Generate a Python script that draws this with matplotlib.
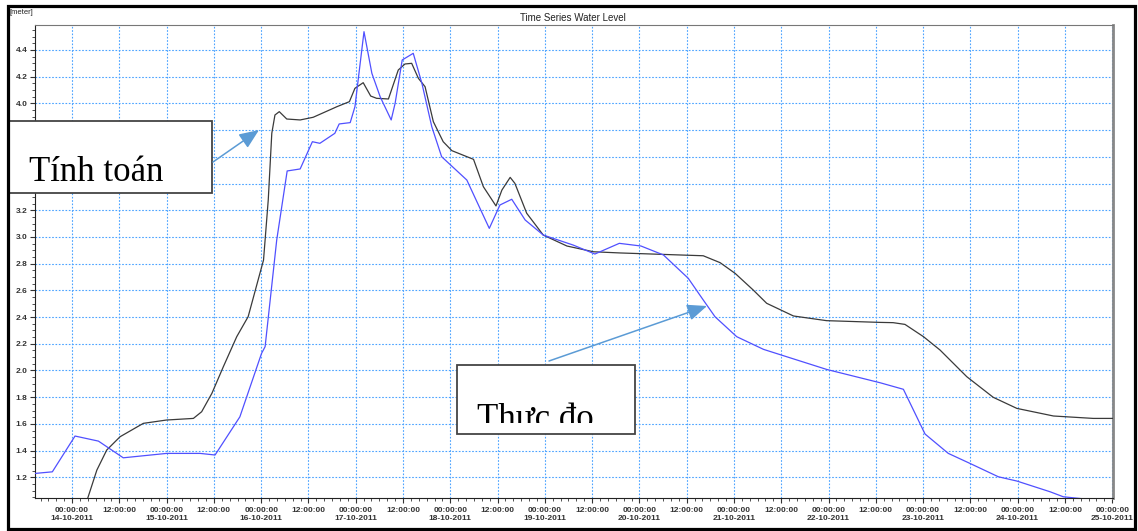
import matplotlib
matplotlib.use("Agg")
import matplotlib.pyplot as plt
from matplotlib.patches import Rectangle, FancyArrowPatch
from matplotlib.ticker import MultipleLocator, FixedLocator
from matplotlib.transforms import Bbox, TransformedBbox
import numpy as np

# hours counted from 14-10-2011 00:00:00
tinh_toan_h = [3.5, 6.3, 8.8, 12.2, 18.1, 24.0, 30.8, 32.9, 35.5, 38.4, 41.8, 44.7,
               48.6, 49.8, 50.7, 51.5, 52.6, 54.5, 57.9, 61.2, 66.3, 67.2, 70.4,
               71.8, 73.9, 75.8, 77.3, 80.3, 82.8, 84.5, 86.2, 87.9, 89.6, 91.7,
               94.2, 96.4, 101.9, 104.4, 107.6, 109.1, 111.2, 112.4, 115.4, 119.6,
               125.6, 132.3, 139.1, 160.2, 164.5, 168.3, 172.9, 176.3, 183.1, 191.5,
               205.1, 208.4, 211.4, 216.1, 220.3, 227.1, 233.8, 239.8, 249.1, 259.2, 264.2]
tinh_toan_v = [1.00, 1.254, 1.404, 1.504, 1.604, 1.629, 1.641, 1.691, 1.829, 2.028, 2.253, 2.403,
               2.827, 3.277, 3.776, 3.913, 3.938, 3.883, 3.876, 3.896, 3.963, 3.975, 4.013,
               4.113, 4.155, 4.055, 4.038, 4.033, 4.250, 4.295, 4.300, 4.188, 4.125, 3.863,
               3.713, 3.646, 3.581, 3.376, 3.232, 3.351, 3.446, 3.401, 3.177, 3.014,
               2.932, 2.889, 2.880, 2.859, 2.807, 2.727, 2.602, 2.503, 2.408, 2.373,
               2.360, 2.358, 2.345, 2.253, 2.153, 1.953, 1.799, 1.716, 1.659, 1.641, 1.641]

thuc_do_h = [-9.4, -5.0, 0.76, 6.7, 13.0, 24.0, 32.5, 36.3, 42.6, 48.1, 49.0, 51.95,
             54.6, 57.9, 61.0, 62.9, 66.7, 67.8, 70.6, 71.8, 74.1, 76.1, 78.2, 81.0,
             82.0, 83.8, 86.6, 88.8, 91.3, 93.8, 100.2, 105.9, 108.6, 111.6, 115.0,
             119.6, 127.2, 132.7, 138.9, 144.4, 150.1, 156.4, 160.2, 163.2, 168.7,
             175.5, 191.5, 205.1, 211.0, 216.5, 222.4, 227.9, 235.1, 239.8, 248.2,
             251.6, 256.3]
thuc_do_v = [1.229, 1.241, 1.509, 1.471, 1.346, 1.379, 1.379, 1.367, 1.653, 2.128, 2.178, 2.977,
             3.494, 3.509, 3.713, 3.701, 3.776, 3.846, 3.856, 3.975, 4.537, 4.225, 4.050, 3.876,
             4.001, 4.325, 4.375, 4.150, 3.826, 3.601, 3.426, 3.064, 3.239, 3.282, 3.127,
             3.014, 2.939, 2.872, 2.952, 2.932, 2.865, 2.690, 2.528, 2.402, 2.253,
             2.158, 2.008, 1.908, 1.859, 1.524, 1.379, 1.304, 1.204, 1.172, 1.092,
             1.054, 1.040]

day_labels = ["14-10-2011", "15-10-2011", "16-10-2011", "17-10-2011", "18-10-2011", "19-10-2011",
              "20-10-2011", "21-10-2011", "22-10-2011", "23-10-2011", "24-10-2011", "25-10-2011"]

W, H = 1138, 531
fig = plt.figure(figsize=(W / 100, H / 100), dpi=100)
fig.patch.set_facecolor("white")


def fx(px):
    return px / W


def fy(py):
    return 1 - py / H


ax = fig.add_axes([fx(35), fy(498), fx(1113) - fx(35), fy(25) - fy(498)])
ax.plot(tinh_toan_h, tinh_toan_v, color="#3a3a3a", lw=0.9, zorder=3)
ax.plot(thuc_do_h, thuc_do_v, color="#5050ff", lw=0.9, zorder=3)

ax.set_xlim(-9.4, 264.2)
ax.set_ylim(1.045, 4.587)

# x ticks every 12 hours, minor every 2 hours
major_x = np.arange(0, 265, 12)
ax.xaxis.set_major_locator(FixedLocator(major_x))
ax.xaxis.set_minor_locator(MultipleLocator(2))
xlabels = []
for h in major_x:
    if h % 24 == 0:
        xlabels.append("00:00:00\n" + day_labels[int(h // 24)])
    else:
        xlabels.append("12:00:00")
ax.set_xticklabels(xlabels, linespacing=1.15)

ax.yaxis.set_major_locator(FixedLocator(np.arange(1.2, 4.45, 0.2)))
ax.yaxis.set_minor_locator(MultipleLocator(0.05))
ax.yaxis.set_major_formatter(plt.FuncFormatter(lambda v, p: f"{v:.1f}"))

ax.tick_params(axis="both", which="major", length=3.5, width=0.8, labelsize=6,
               colors="#333333", pad=2)
ax.tick_params(axis="x", which="major", pad=3)
ax.tick_params(axis="both", which="minor", length=2, width=0.6, colors="#333333")
for lbl in ax.get_xticklabels() + ax.get_yticklabels():
    lbl.set_family("Liberation Sans")
    lbl.set_fontweight("bold")

ax.grid(True, which="major", color="#4aa3ff", lw=0.8, linestyle=(0, (1.5, 1.5)), zorder=1)

ax.spines["left"].set_color("#222222")
ax.spines["bottom"].set_color("#222222")
ax.spines["top"].set_color("#777777")
ax.spines["top"].set_linewidth(0.8)
ax.spines["right"].set_color("#888888")
ax.spines["right"].set_linewidth(2)

fig.text(fx(573), fy(18), "Time Series Water Level", ha="center", va="center",
         fontsize=7, family="Liberation Sans", color="#222222")
fig.text(fx(10), fy(12), "[meter]", ha="left", va="center",
         fontsize=5.5, family="Liberation Sans", color="#222222")

# callout boxes
box1 = Rectangle((fx(8), fy(193)), fx(212) - fx(8), fy(121) - fy(193), transform=fig.transFigure,
                 facecolor="white", edgecolor="#444444", lw=1.3, zorder=5)
fig.add_artist(box1)
fig.text(fx(29), fy(181), "Tính toán", ha="left", va="baseline", fontsize=25,
         family="Liberation Serif", color="black", zorder=6)

box2 = Rectangle((fx(457), fy(434)), fx(635) - fx(457), fy(365) - fy(434), transform=fig.transFigure,
                 facecolor="white", edgecolor="#444444", lw=1.3, zorder=5)
fig.add_artist(box2)
t2 = fig.text(fx(477), fy(428), "Thực đo", ha="left", va="baseline", fontsize=25,
              family="Liberation Serif", color="black", zorder=6)
clip = TransformedBbox(Bbox.from_extents(fx(457), fy(423), fx(635), fy(365)), fig.transFigure)
t2.set_clip_box(clip)
t2.set_clip_on(True)

arrow_kw = dict(transform=fig.transFigure, arrowstyle="-|>,head_length=1.2,head_width=0.5",
                mutation_scale=10, color="#5b9bd5", lw=1.1, zorder=6, shrinkA=0, shrinkB=0)
fig.add_artist(FancyArrowPatch((fx(213), fy(162)), (fx(259), fy(130)), **arrow_kw))
fig.add_artist(FancyArrowPatch((fx(549), fy(361)), (fx(707), fy(306)), **arrow_kw))

# outer frame
frame = Rectangle((fx(7.5), fy(528.5)), fx(1134.5) - fx(7.5), fy(5.5) - fy(528.5),
                  transform=fig.transFigure, facecolor="none", edgecolor="black", lw=2.3, zorder=10)
fig.add_artist(frame)

fig.savefig("out.png", dpi=100, facecolor="white")
